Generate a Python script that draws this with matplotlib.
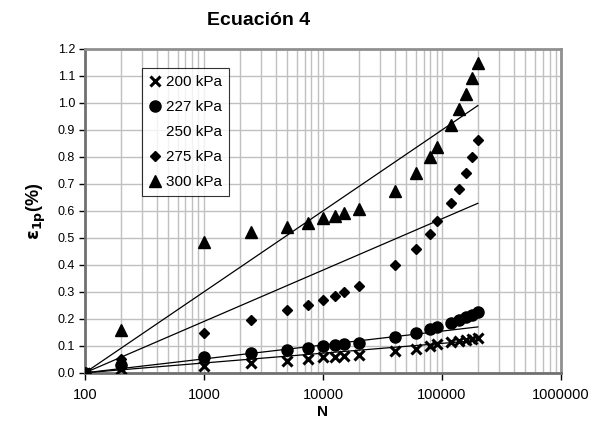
import matplotlib
matplotlib.use("Agg")
import matplotlib.pyplot as plt
from matplotlib.lines import Line2D
from matplotlib.ticker import LogLocator, FixedLocator, NullFormatter

plt.rcParams["font.family"] = ["Liberation Sans", "DejaVu Sans"]

# cycles N (same for every series)
n_cycles = [100, 200, 1000, 2500, 5000, 7500, 10000, 12500, 15000, 20000,
            40000, 60000, 80000, 90000, 120000, 140000, 160000, 180000, 200000]

# permanent strain eps_1p (%) per confining stress
eps_200 = [0.0, 0.013, 0.027, 0.037, 0.045, 0.051, 0.058, 0.060, 0.062, 0.065,
           0.079, 0.089, 0.100, 0.107, 0.115, 0.119, 0.123, 0.127, 0.130]
eps_227 = [0.0, 0.030, 0.059, 0.074, 0.083, 0.093, 0.100, 0.104, 0.108, 0.112,
           0.134, 0.148, 0.164, 0.170, 0.185, 0.195, 0.205, 0.215, 0.225]
eps_275 = [0.0, 0.050, 0.147, 0.194, 0.231, 0.250, 0.268, 0.283, 0.300, 0.322,
           0.399, 0.458, 0.513, 0.564, 0.628, 0.681, 0.742, 0.801, 0.862]
eps_300 = [0.0, 0.160, 0.485, 0.520, 0.540, 0.556, 0.572, 0.582, 0.592, 0.608,
           0.675, 0.740, 0.800, 0.837, 0.919, 0.979, 1.034, 1.093, 1.147]

# fitted trend lines (Ecuación 4): value at start and end of the fit range
trend_n = [100, 200000]
trend_200 = [0.0, 0.120]
trend_227 = [0.0, 0.170]
trend_275 = [0.0, 0.628]
trend_300 = [0.0, 0.990]

fig = plt.figure(figsize=(6.02, 4.29), dpi=100)
ax = fig.add_axes([0.141, 0.131, 0.791, 0.755])

grid_c = "#c0c0c0"
for ytr in (trend_200, trend_227, trend_275, trend_300):
    ax.plot(trend_n, ytr, color="black", lw=0.9, zorder=3)

ax.plot(n_cycles, eps_200, ls="none", marker="x", ms=7, mew=2.2, color="black", zorder=4)
ax.plot(n_cycles, eps_227, ls="none", marker="o", ms=8, color="black", zorder=4)
ax.plot(n_cycles, eps_275, ls="none", marker="D", ms=5.5, color="black", zorder=4)
ax.plot(n_cycles, eps_300, ls="none", marker="^", ms=8, color="black", zorder=4)

ax.set_xscale("log")
ax.set_xlim(100, 1e6)
ax.set_ylim(0, 1.2)
ax.xaxis.set_minor_locator(LogLocator(base=10, subs=range(2, 10), numticks=20))
ax.xaxis.set_minor_formatter(NullFormatter())
ax.set_xticks([100, 1000, 10000, 100000, 1000000])
ax.set_xticklabels(["100", "1000", "10000", "100000", "1000000"])
ax.yaxis.set_major_locator(FixedLocator([i / 10 for i in range(13)]))
ax.set_yticklabels([f"{i / 10:.1f}" for i in range(13)])

ax.grid(True, which="both", axis="x", color=grid_c, lw=1)
ax.grid(True, which="major", axis="y", color=grid_c, lw=1)
ax.set_axisbelow(True)

ax.tick_params(axis="x", which="major", length=5, width=1, labelsize=10.5, pad=6, color="black")
ax.tick_params(axis="x", which="minor", length=0)
ax.tick_params(axis="y", length=4, width=1, labelsize=9, pad=3, color="black")

for side in ("top", "right"):
    ax.spines[side].set_color("#909090")
    ax.spines[side].set_linewidth(2)
for side in ("bottom", "left"):
    ax.spines[side].set_color("#707070")
    ax.spines[side].set_linewidth(2)

ax.set_xlabel("N", fontsize=11, fontweight="bold", labelpad=2)
ax.set_ylabel(r"$\mathbf{\varepsilon}_{\mathbf{1p}}$(%)", fontsize=13, fontweight="bold", labelpad=7)
fig.text(0.429, 0.952, "Ecuación 4", ha="center", va="center", fontsize=14, fontweight="bold")

handles = [
    Line2D([], [], ls="none", marker="x", ms=7, mew=2.2, color="black"),
    Line2D([], [], ls="none", marker="o", ms=8, color="black"),
    Line2D([], [], ls="none", marker="none", color="black"),
    Line2D([], [], ls="none", marker="D", ms=5.5, color="black"),
    Line2D([], [], ls="none", marker="^", ms=8, color="black"),
]
labels = ["200 kPa", "227 kPa", "250 kPa", "275 kPa", "300 kPa"]
leg = ax.legend(handles, labels, loc="upper left", bbox_to_anchor=(0.12, 0.94),
                fontsize=11, frameon=True, fancybox=False, edgecolor="black",
                handlelength=0.8, handletextpad=0.3, labelspacing=0.72,
                borderpad=0.45, borderaxespad=0)
leg.get_frame().set_linewidth(0.8)

fig.savefig("out.png", dpi=100)
